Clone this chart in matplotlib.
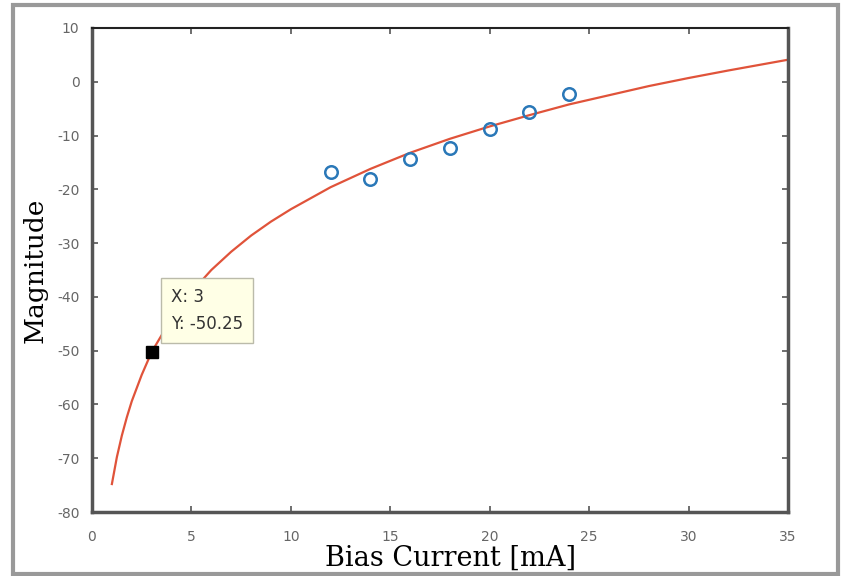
import matplotlib
matplotlib.use("Agg")
import matplotlib.pyplot as plt
from matplotlib.patches import Rectangle

plt.rcParams["axes.unicode_minus"] = False

# measured points (bias current vs magnitude)
bias_ma = [12, 14, 16, 18, 20, 22, 24]
magnitude = [-16.8, -18.1, -14.4, -12.3, -8.8, -5.6, -2.3]

# fitted curve
fit_x = [1, 1.25, 1.5, 1.75, 2, 2.5, 3, 4, 5, 6, 7, 8, 9, 10, 12, 14, 16, 18,
         20, 22, 24, 26, 28, 30, 32, 35]
fit_y = [-74.8, -69.8, -65.8, -62.4, -59.4, -54.5, -50.25, -44.0, -39.1, -35.0,
         -31.6, -28.6, -26.0, -23.7, -19.6, -16.2, -13.2, -10.6, -8.3, -6.2,
         -4.2, -2.5, -0.8, 0.7, 2.1, 4.1]

# data tip
tip_x, tip_y = 3, -50.25

W, H = 843, 576
fig = plt.figure(figsize=(W / 100, H / 100), dpi=100)

# axes box in pixels: left 92, right 788, top 28, bottom 512
ax = fig.add_axes([92 / W, 1 - 512 / H, (788 - 92) / W, (512 - 28) / H])

ax.plot(fit_x, fit_y, color="#e0533a", lw=1.6)
ax.plot(bias_ma, magnitude, "o", ms=9, mfc="none", mec="#2a78b8", mew=1.8)
ax.plot(tip_x, tip_y, "s", ms=8, color="black")

ax.set_xlim(0, 35)
ax.set_ylim(-80, 10)
ax.set_xticks(range(0, 36, 5))
ax.set_yticks(range(-80, 11, 10))
ax.tick_params(direction="in", top=True, right=True, length=4, width=1.2,
               colors="#555555", labelsize=10, labelcolor="#666666")
ax.tick_params(axis="x", pad=13)
ax.tick_params(axis="y", pad=9)

for side in ["left", "bottom", "right"]:
    ax.spines[side].set_linewidth(2.5)
    ax.spines[side].set_color("#555555")
ax.spines["top"].set_linewidth(1.5)
ax.spines["top"].set_color("#222222")

# data tip box
ax.annotate("X: 3\nY: -50.25", xy=(tip_x, tip_y), xytext=(3.95, -42.6),
            fontsize=12, color="#333333", family="DejaVu Sans", va="center",
            linespacing=1.65,
            bbox=dict(boxstyle="square,pad=0.6", fc="#ffffe6", ec="#bbbbaa", lw=1))

# axis labels
fig.text(451 / W, 1 - 558 / H, "Bias Current [mA]", ha="center", va="center",
         family="DejaVu Serif", fontsize=19.5)
fig.text(35 / W, 1 - 270 / H, "Magnitude", ha="center", va="center",
         rotation=90, family="DejaVu Serif", fontsize=19)

# outer gray frame
fig.patches.append(Rectangle((13 / W, 2 / H), (838 - 13) / W, (571 - 2) / H,
                             transform=fig.transFigure, fill=False,
                             ec="#999999", lw=3))

fig.savefig("out.png", dpi=100)
